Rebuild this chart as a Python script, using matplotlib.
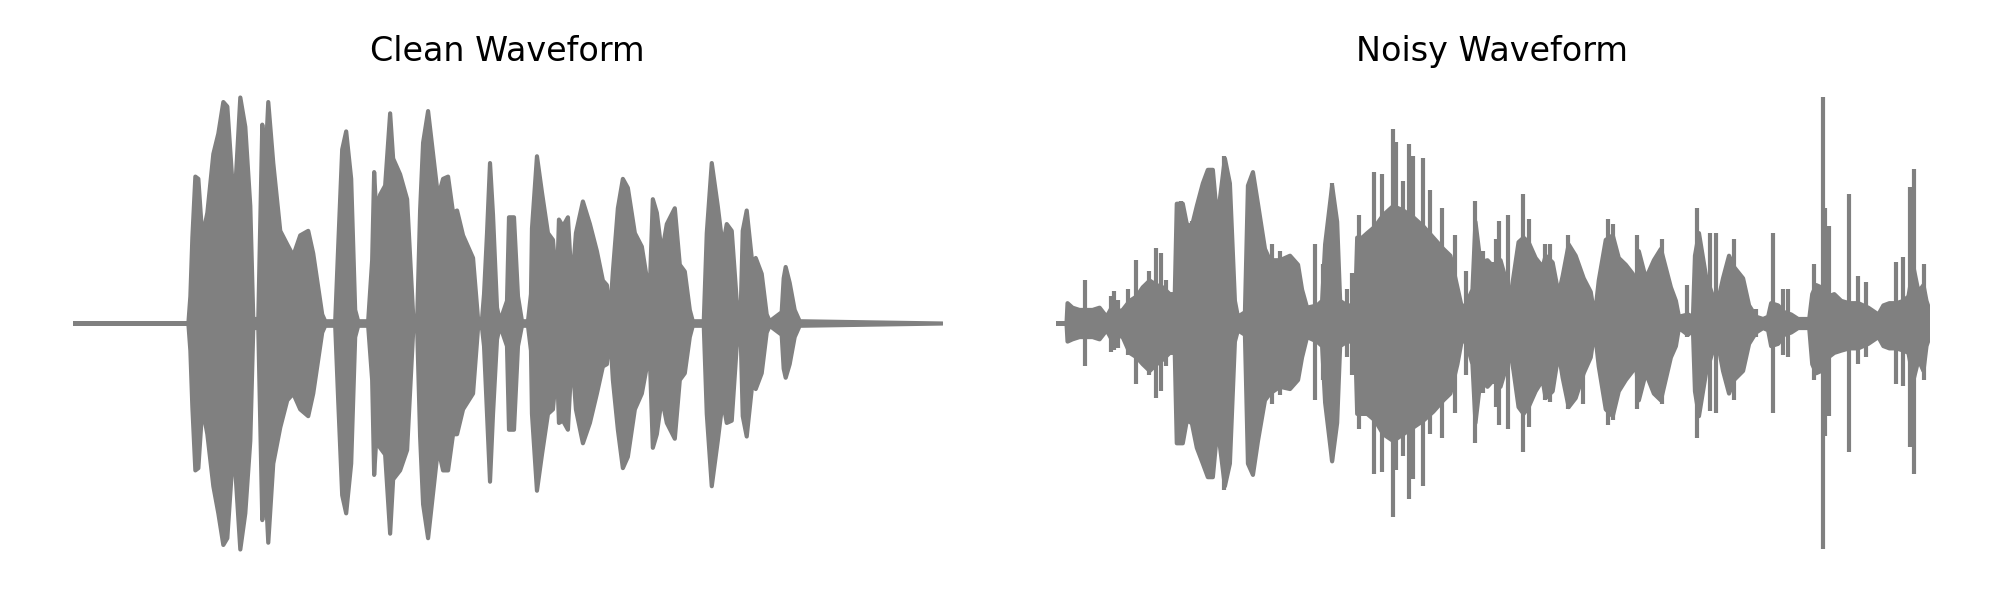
import matplotlib
matplotlib.use("Agg")
import matplotlib.pyplot as plt
import numpy as np

# ---- Clean waveform envelope (frame index, upper, lower amplitude) ----
clean_frame = [0, 115, 117, 119, 122, 125, 129, 134, 140, 145, 150, 154, 159, 162, 167, 172, 177, 180,
               185, 189, 192, 195, 200, 207, 214, 220, 227, 235, 240, 249, 252, 262, 265, 269, 273, 278,
               282, 285, 295, 299, 301, 303, 307, 312, 317, 320, 327, 334, 340, 344, 347, 350, 355, 360,
               365, 370, 375, 380, 384, 390, 400, 405, 409, 411, 414, 417, 420, 424, 427, 434, 436, 441,
               445, 449, 455, 458, 459, 464, 469, 475, 480, 484, 486, 490, 495, 499, 503, 510, 517, 524,
               530, 534, 537, 540, 545, 550, 555, 562, 569, 574, 577, 580, 584, 589, 594, 602, 607, 612,
               617, 620, 631, 634, 639, 645, 650, 654, 659, 664, 668, 670, 674, 680, 683, 689, 694, 697,
               709, 711, 713, 717, 722, 727, 870]
clean_upper = [0.0, 0.0, 0.12, 0.38, 0.65, 0.64, 0.38, 0.49, 0.75, 0.84, 0.98, 0.96, 0.63, 0.60, 1.0, 0.87,
               0.52, 0.02, 0.02, 0.88, 0.70, 0.98, 0.71, 0.41, 0.35, 0.30, 0.39, 0.41, 0.31, 0.04, 0.01, 0.01,
               0.34, 0.77, 0.85, 0.64, 0.06, 0.01, 0.01, 0.28, 0.67, 0.50, 0.57, 0.61, 0.93, 0.73, 0.66, 0.55,
               0.04, 0.01, 0.50, 0.80, 0.94, 0.75, 0.56, 0.64, 0.65, 0.49, 0.50, 0.39, 0.29, 0.02, 0.02, 0.13,
               0.40, 0.71, 0.48, 0.07, 0.01, 0.10, 0.47, 0.47, 0.12, 0.01, 0.01, 0.13, 0.42, 0.74, 0.58, 0.40,
               0.37, 0.16, 0.46, 0.43, 0.47, 0.16, 0.40, 0.54, 0.44, 0.32, 0.19, 0.17, 0.03, 0.23, 0.51, 0.64,
               0.60, 0.40, 0.34, 0.20, 0.16, 0.55, 0.49, 0.31, 0.44, 0.51, 0.26, 0.23, 0.06, 0.01, 0.01, 0.40,
               0.71, 0.52, 0.34, 0.44, 0.41, 0.10, 0.06, 0.41, 0.50, 0.25, 0.29, 0.22, 0.04, 0.01, 0.05, 0.20,
               0.25, 0.18, 0.06, 0.01, 0.0]
clean_lower = [0.0, 0.0, -0.12, -0.37, -0.65, -0.64, -0.37, -0.49, -0.72, -0.84, -0.98, -0.95, -0.62, -0.65,
               -1.0, -0.84, -0.52, -0.02, -0.02, -0.87, -0.70, -0.97, -0.62, -0.46, -0.34, -0.31, -0.38, -0.41,
               -0.31, -0.04, -0.01, -0.01, -0.34, -0.76, -0.84, -0.62, -0.06, -0.01, -0.01, -0.25, -0.67, -0.52,
               -0.55, -0.58, -0.93, -0.69, -0.65, -0.56, -0.04, -0.01, -0.50, -0.80, -0.95, -0.75, -0.55, -0.65,
               -0.65, -0.49, -0.49, -0.38, -0.31, -0.02, -0.02, -0.10, -0.40, -0.70, -0.40, -0.07, -0.01, -0.10,
               -0.47, -0.47, -0.10, -0.01, -0.01, -0.12, -0.40, -0.74, -0.58, -0.40, -0.38, -0.18, -0.44, -0.43,
               -0.47, -0.13, -0.38, -0.53, -0.44, -0.31, -0.19, -0.18, -0.03, -0.25, -0.47, -0.64, -0.59, -0.38,
               -0.31, -0.19, -0.15, -0.55, -0.49, -0.33, -0.44, -0.51, -0.25, -0.22, -0.06, -0.01, -0.01, -0.40,
               -0.72, -0.52, -0.34, -0.44, -0.43, -0.10, -0.06, -0.41, -0.50, -0.25, -0.29, -0.22, -0.04, -0.01,
               -0.05, -0.20, -0.24, -0.18, -0.06, -0.01, 0.0]

# ---- Noisy waveform envelope ----
noisy_frame = [1, 11, 12, 17, 24, 31, 37, 44, 51, 56, 61, 67, 74, 81, 87, 94, 101, 107, 114, 119, 121, 127,
               131, 136, 141, 147, 152, 157, 161, 164, 169, 174, 179, 182, 189, 192, 197, 202, 209, 214, 224,
               234, 242, 246, 251, 261, 266, 269, 276, 281, 284, 291, 299, 301, 306, 311, 319, 327, 337, 347,
               357, 367, 377, 387, 394, 401, 406, 411, 416, 419, 424, 431, 437, 444, 454, 457, 462, 467, 472,
               479, 486, 489, 496, 502, 506, 512, 519, 527, 534, 538, 542, 549, 556, 562, 569, 576, 578, 582,
               589, 597, 604, 614, 619, 622, 631, 636, 638, 642, 649, 656, 661, 666, 672, 677, 686, 692, 699,
               706, 711, 714, 721, 727, 734, 741, 746, 752, 755, 759, 764, 771, 777, 784, 792, 801, 811, 821,
               826, 832, 839, 846, 851, 856, 861, 866, 869, 872]
noisy_upper = [0.0, 0.0, 0.09, 0.07, 0.06, 0.06, 0.06, 0.07, 0.03, 0.07, 0.05, 0.06, 0.10, 0.12, 0.16, 0.19,
               0.17, 0.16, 0.13, 0.13, 0.53, 0.53, 0.44, 0.43, 0.52, 0.62, 0.68, 0.68, 0.48, 0.55, 0.73, 0.62,
               0.10, 0.03, 0.05, 0.61, 0.67, 0.53, 0.33, 0.28, 0.28, 0.30, 0.26, 0.15, 0.07, 0.08, 0.10, 0.35,
               0.61, 0.45, 0.10, 0.08, 0.08, 0.38, 0.38, 0.40, 0.43, 0.48, 0.52, 0.50, 0.47, 0.43, 0.38, 0.33,
               0.30, 0.16, 0.06, 0.10, 0.15, 0.45, 0.27, 0.28, 0.25, 0.28, 0.12, 0.21, 0.36, 0.38, 0.36, 0.29,
               0.25, 0.30, 0.27, 0.13, 0.21, 0.35, 0.30, 0.20, 0.14, 0.03, 0.19, 0.37, 0.39, 0.29, 0.26, 0.22,
               0.10, 0.32, 0.20, 0.28, 0.33, 0.16, 0.10, 0.03, 0.04, 0.03, 0.30, 0.40, 0.21, 0.12, 0.10, 0.20,
               0.30, 0.25, 0.20, 0.08, 0.03, 0.02, 0.03, 0.09, 0.08, 0.05, 0.04, 0.02, 0.02, 0.02, 0.13, 0.17,
               0.16, 0.12, 0.13, 0.10, 0.09, 0.09, 0.07, 0.04, 0.08, 0.09, 0.09, 0.10, 0.12, 0.25, 0.14, 0.17,
               0.10, 0.06]
noisy_lower = [0.0, 0.0, -0.08, -0.07, -0.06, -0.06, -0.06, -0.07, -0.03, -0.07, -0.05, -0.06, -0.13, -0.15,
               -0.18, -0.21, -0.18, -0.16, -0.13, -0.13, -0.53, -0.53, -0.43, -0.44, -0.55, -0.62, -0.68, -0.68,
               -0.49, -0.54, -0.72, -0.62, -0.08, -0.03, -0.05, -0.62, -0.67, -0.52, -0.34, -0.31, -0.28, -0.29,
               -0.25, -0.15, -0.06, -0.08, -0.10, -0.35, -0.61, -0.44, -0.10, -0.08, -0.08, -0.40, -0.40, -0.40,
               -0.43, -0.49, -0.52, -0.49, -0.46, -0.43, -0.39, -0.34, -0.31, -0.18, -0.06, -0.10, -0.18, -0.44,
               -0.25, -0.28, -0.25, -0.28, -0.13, -0.21, -0.37, -0.40, -0.37, -0.30, -0.25, -0.33, -0.30, -0.13,
               -0.24, -0.37, -0.33, -0.22, -0.15, -0.03, -0.19, -0.38, -0.41, -0.30, -0.25, -0.21, -0.10, -0.34,
               -0.22, -0.31, -0.34, -0.15, -0.10, -0.02, -0.05, -0.03, -0.30, -0.41, -0.22, -0.12, -0.09, -0.21,
               -0.31, -0.25, -0.21, -0.09, -0.04, -0.02, -0.03, -0.10, -0.09, -0.05, -0.04, -0.02, -0.02, -0.02,
               -0.18, -0.22, -0.21, -0.15, -0.13, -0.12, -0.11, -0.11, -0.09, -0.06, -0.10, -0.11, -0.11, -0.12,
               -0.13, -0.25, -0.16, -0.21, -0.10, -0.06]

# ---- Noisy waveform isolated spikes (frame, upper, lower) ----
spike_frame = [30, 56, 59, 63, 73, 81, 94, 101, 106, 111, 126, 137, 169, 217, 224, 259, 267, 276, 291, 296,
               303, 318, 326, 337, 340, 347, 353, 357, 367, 374, 386, 399, 410, 419, 427, 436, 440, 443, 452,
               467, 473, 489, 494, 512, 527, 552, 557, 581, 606, 631, 641, 654, 659, 677, 699, 716, 726, 731,
               757, 766, 768, 772, 792, 801, 809, 839, 846, 853, 857, 867]
spike_upper = [0.19, 0.12, 0.14, 0.10, 0.15, 0.28, 0.23, 0.33, 0.31, 0.19, 0.54, 0.45, 0.74, 0.35, 0.32, 0.35,
               0.26, 0.62, 0.15, 0.22, 0.48, 0.67, 0.66, 0.86, 0.80, 0.63, 0.79, 0.74, 0.73, 0.59, 0.51, 0.39,
               0.23, 0.54, 0.32, 0.27, 0.37, 0.45, 0.48, 0.57, 0.46, 0.35, 0.35, 0.39, 0.19, 0.46, 0.44, 0.39,
               0.37, 0.17, 0.51, 0.40, 0.40, 0.37, 0.06, 0.40, 0.15, 0.15, 0.26, 1.0, 0.51, 0.43, 0.57, 0.21,
               0.18, 0.27, 0.29, 0.60, 0.68, 0.26]
spike_lower = [-0.19, -0.13, -0.12, -0.11, -0.14, -0.27, -0.23, -0.33, -0.30, -0.19, -0.53, -0.45, -0.74, -0.36,
               -0.32, -0.34, -0.25, -0.61, -0.15, -0.23, -0.47, -0.67, -0.66, -0.86, -0.65, -0.59, -0.78, -0.69,
               -0.72, -0.49, -0.51, -0.40, -0.23, -0.53, -0.31, -0.27, -0.37, -0.45, -0.47, -0.57, -0.46, -0.34,
               -0.35, -0.38, -0.36, -0.45, -0.43, -0.38, -0.36, -0.06, -0.51, -0.39, -0.40, -0.34, -0.06, -0.40,
               -0.14, -0.15, -0.25, -1.0, -0.50, -0.41, -0.57, -0.18, -0.15, -0.27, -0.28, -0.55, -0.67, -0.25]

titles = ["Clean Waveform", "Noisy Waveform"]
color = "gray"

fig = plt.figure(figsize=(10, 3), dpi=200)
ax1 = fig.add_axes([0.0365, 0.0383, 0.4345, 0.8467])
ax2 = fig.add_axes([0.528, 0.0383, 0.4365, 0.8467])

ax1.fill_between(clean_frame, clean_lower, clean_upper, facecolor=color, edgecolor=color, linewidth=1.5)
ax1.set_xlim(clean_frame[0], clean_frame[-1])

ax2.fill_between(noisy_frame, noisy_lower, noisy_upper, facecolor=color, edgecolor=color, linewidth=1.5)
ax2.vlines(spike_frame, spike_lower, spike_upper, colors=color, linewidth=1.5)
ax2.set_xlim(noisy_frame[0], noisy_frame[-1])

for ax, t in zip((ax1, ax2), titles):
    ax.set_ylim(-1.124, 1.124)
    ax.set_title(t, fontsize=12, pad=3)
    ax.axis("off")

fig.savefig("out.png", dpi=200)
